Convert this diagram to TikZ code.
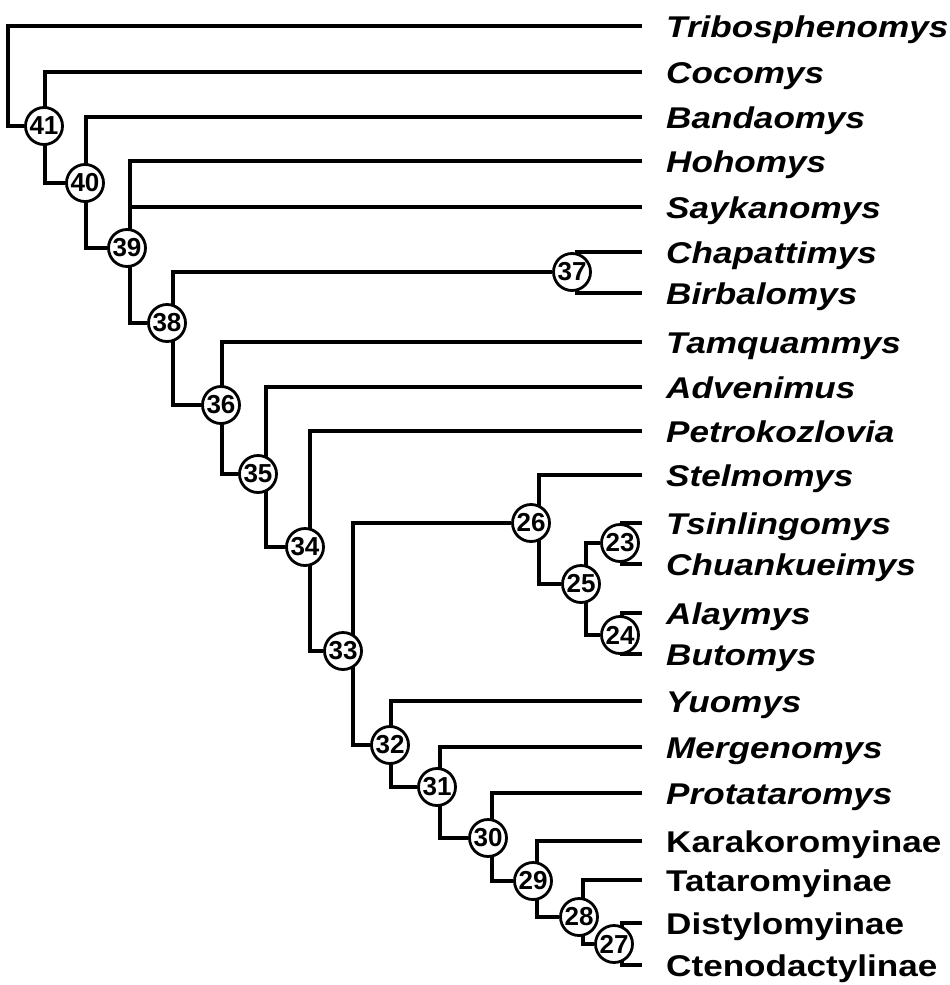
\documentclass[tikz,border=0pt]{standalone}
\usepackage{fontspec}
\setmainfont{Liberation Sans}
\usetikzlibrary{backgrounds}
\tikzset{
  csucs/.style={circle,draw,line width=2.8pt,fill=white,inner sep=0pt,minimum size=37pt,
    font=\bfseries\fontsize{26}{26}\selectfont},
  ag/.style={line width=3.4pt},
  nev/.style={anchor=base west,inner sep=0pt,xscale=1.17,font=\bfseries\itshape\fontsize{30}{30}\selectfont},
  csal/.style={nev,font=\bfseries\fontsize{30}{30}\selectfont},
}
\begin{document}
\begin{tikzpicture}[x=1pt,y=-1pt]
  \useasboundingbox (0,0) rectangle (950,985);
  % leaves
  \foreach \k/\y/\t in {tribo/26/Tribosphenomys, coco/72/Cocomys, band/117/Bandaomys,
      hoho/161/Hohomys, sayk/207/Saykanomys, chap/252/Chapattimys, birb/293/Birbalomys,
      tamq/342/Tamquammys, adve/387/Advenimus, petr/431/Petrokozlovia, stel/475/Stelmomys,
      tsin/523/Tsinlingomys, chua/564/Chuankueimys, alay/613/Alaymys, buto/654/Butomys,
      yuom/701/Yuomys, merg/747/Mergenomys, prot/793/Protataromys}
    {\coordinate (t\k) at (642,\y); \node[nev] (l\k) at (666,\y+11) {\t};}
  \foreach \k/\y/\t in {kara/841/Karakoromyinae, tata/880/Tataromyinae,
      dist/923/Distylomyinae, cten/965/Ctenodactylinae}
    {\coordinate (t\k) at (642,\y); \node[csal] (l\k) at (666,\y+11) {\t};}
  % numbered nodes and their junctions
  \foreach \n/\x/\y/\v in {41/44/126/45, 40/85/183/86, 39/127/248/130, 38/167/323/173,
      37/572/272/577, 36/221/405/222, 35/258/474/266, 34/305/547/310, 33/343/651/353,
      26/531/523/539, 25/581/584/586, 23/620/543/622, 24/620/635/622, 32/390/745/391,
      31/437/787/440, 30/488/838/492, 29/533/881/537, 28/579/917/583, 27/614/944/622}
    {\node[csucs] (n\n) at (\x,\y) {\n}; \coordinate (j\n) at (\v,\y);}
  \coordinate (r0) at (8,126);
  \begin{scope}[on background layer]
    \draw[ag] (n41) -- (r0) |- (ttribo);
    \foreach \a/\b/\c in {tcoco/41/n40, tband/40/n39, thoho/39/n38, n37/38/n36, tchap/37/tbirb,
        ttamq/36/n35, tadve/35/n34, tpetr/34/n33, n26/33/n32, tstel/26/n25, n23/25/n24,
        ttsin/23/tchua, talay/24/tbuto, tyuom/32/n31, tmerg/31/n30, tprot/30/n29,
        tkara/29/n28, ttata/28/n27, tdist/27/tcten}
      \draw[ag] (\a) -| (j\b) |- (\c);
    \draw[ag] (tsayk) -- (tsayk -| j39);
  \end{scope}
\end{tikzpicture}
\end{document}
